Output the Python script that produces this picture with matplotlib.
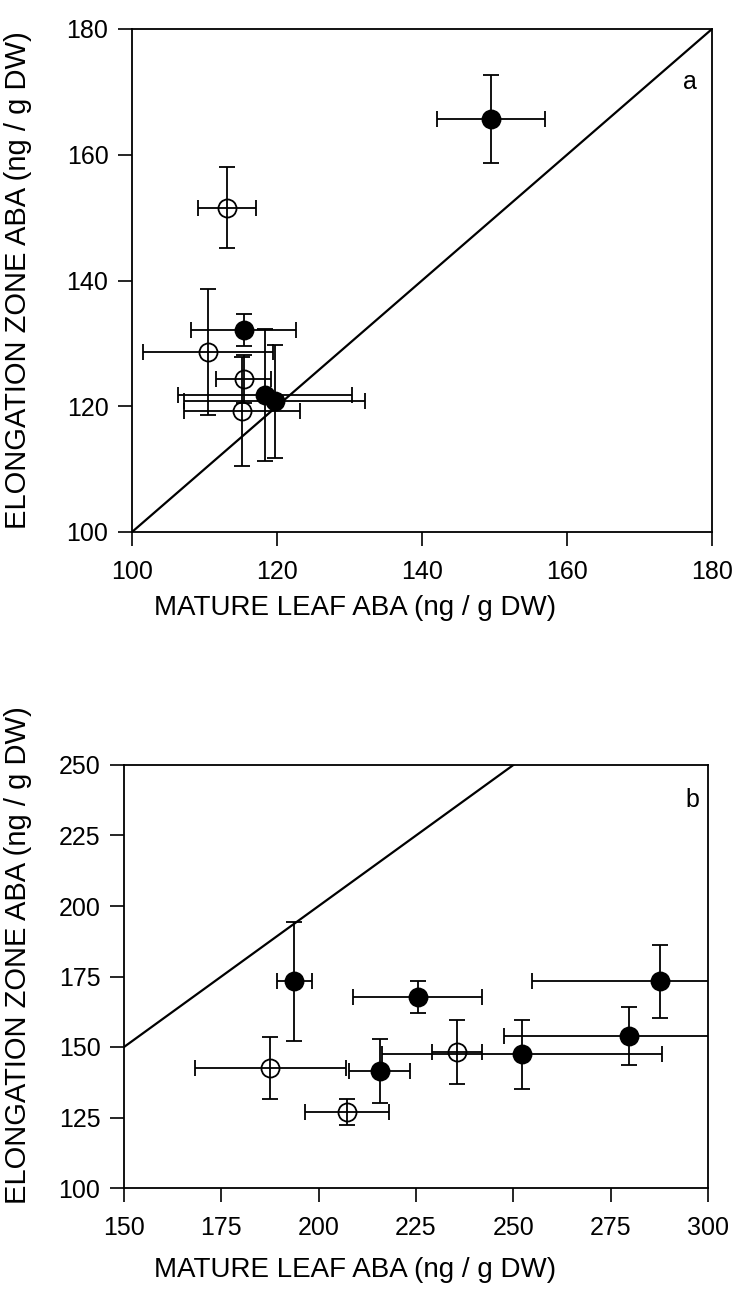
import matplotlib
matplotlib.use("Agg")
import matplotlib.pyplot as plt

plt.rcParams['font.family'] = ['Liberation Sans', 'DejaVu Sans']

# ---- Panel a data ----
a_x = [149.5, 113.1, 115.4, 110.5, 115.4, 118.4, 119.7, 115.2]
a_y = [165.7, 151.6, 132.1, 128.6, 124.3, 121.8, 120.8, 119.2]
a_xerr = [7.4, 4.0, 7.2, 9.0, 3.8, 12.0, 12.5, 8.0]
a_yerr = [7.0, 6.5, 2.5, 10.0, 3.8, 10.5, 9.0, 8.7]
a_filled = [True, False, True, False, False, True, True, False]
a_ticks = [100, 120, 140, 160, 180]

# ---- Panel b data ----
b_x = [193.7, 225.4, 287.6, 279.7, 252.2, 235.6, 187.6, 215.7, 207.3]
b_y = [173.3, 167.7, 173.3, 153.9, 147.4, 148.3, 142.4, 141.4, 127.0]
b_xerr = [4.5, 16.6, 32.7, 32.0, 36.0, 6.4, 19.3, 7.8, 10.8]
b_yerr = [21.0, 5.8, 13.0, 10.2, 12.3, 11.3, 11.0, 11.3, 4.5]
b_filled = [True, True, True, True, True, False, False, True, False]
b_xticks = [150, 175, 200, 225, 250, 275, 300]
b_yticks = [100, 125, 150, 175, 200, 225, 250]

xlabel_text = "MATURE LEAF ABA (ng / g DW)"
ylabel_text = "ELONGATION ZONE ABA (ng / g DW)"

W, H = 735, 1291
fig = plt.figure(figsize=(W / 100, H / 100), dpi=100)

ax_a = fig.add_axes([132 / W, 1 - 532 / H, (712 - 132) / W, (532 - 29) / H])
ax_b = fig.add_axes([124 / W, 1 - 1188 / H, (708 - 124) / W, (1188 - 765) / H])


def draw(ax, xs, ys, xe, ye, filled):
    for x, y, dx, dy, f in zip(xs, ys, xe, ye, filled):
        ax.errorbar(x, y, xerr=dx, yerr=dy, fmt='o', ms=13,
                    mfc='black' if f else 'none', mec='black', mew=1.3,
                    ecolor='black', elinewidth=1.3, capsize=5.5, capthick=1.3,
                    zorder=3)


def style(ax, xt, yt):
    ax.set_xticks(xt)
    ax.set_yticks(yt)
    ax.set_xlim(xt[0], xt[-1])
    ax.set_ylim(yt[0], yt[-1])
    ax.tick_params(direction='out', length=10, width=1.2, labelsize=18,
                   top=False, right=False)
    ax.tick_params(axis='x', pad=10)
    ax.tick_params(axis='y', pad=7)
    for s in ax.spines.values():
        s.set_linewidth(1.3)


# Panel a
ax_a.plot([100, 180], [100, 180], color='black', lw=1.6, zorder=2)
draw(ax_a, a_x, a_y, a_xerr, a_yerr, a_filled)
style(ax_a, a_ticks, a_ticks)
ax_a.text(177.0, 171.6, 'a', fontsize=18, ha='center', va='center')

# Panel b
ax_b.plot([150, 250], [150, 250], color='black', lw=1.6, zorder=2)
draw(ax_b, b_x, b_y, b_xerr, b_yerr, b_filled)
style(ax_b, b_xticks, b_yticks)
ax_b.text(296.0, 237.6, 'b', fontsize=18, ha='center', va='center')

# Axis labels
fig.text(18 / W, 1 - 280 / H, ylabel_text, rotation=90, fontsize=21,
         ha='center', va='center')
fig.text(355 / W, 1 - 608 / H, xlabel_text, fontsize=20, ha='center', va='center')
fig.text(18 / W, 1 - 955 / H, ylabel_text, rotation=90, fontsize=21,
         ha='center', va='center')
fig.text(355 / W, 1 - 1270 / H, xlabel_text, fontsize=20, ha='center', va='center')

fig.savefig('out.png', dpi=100)
